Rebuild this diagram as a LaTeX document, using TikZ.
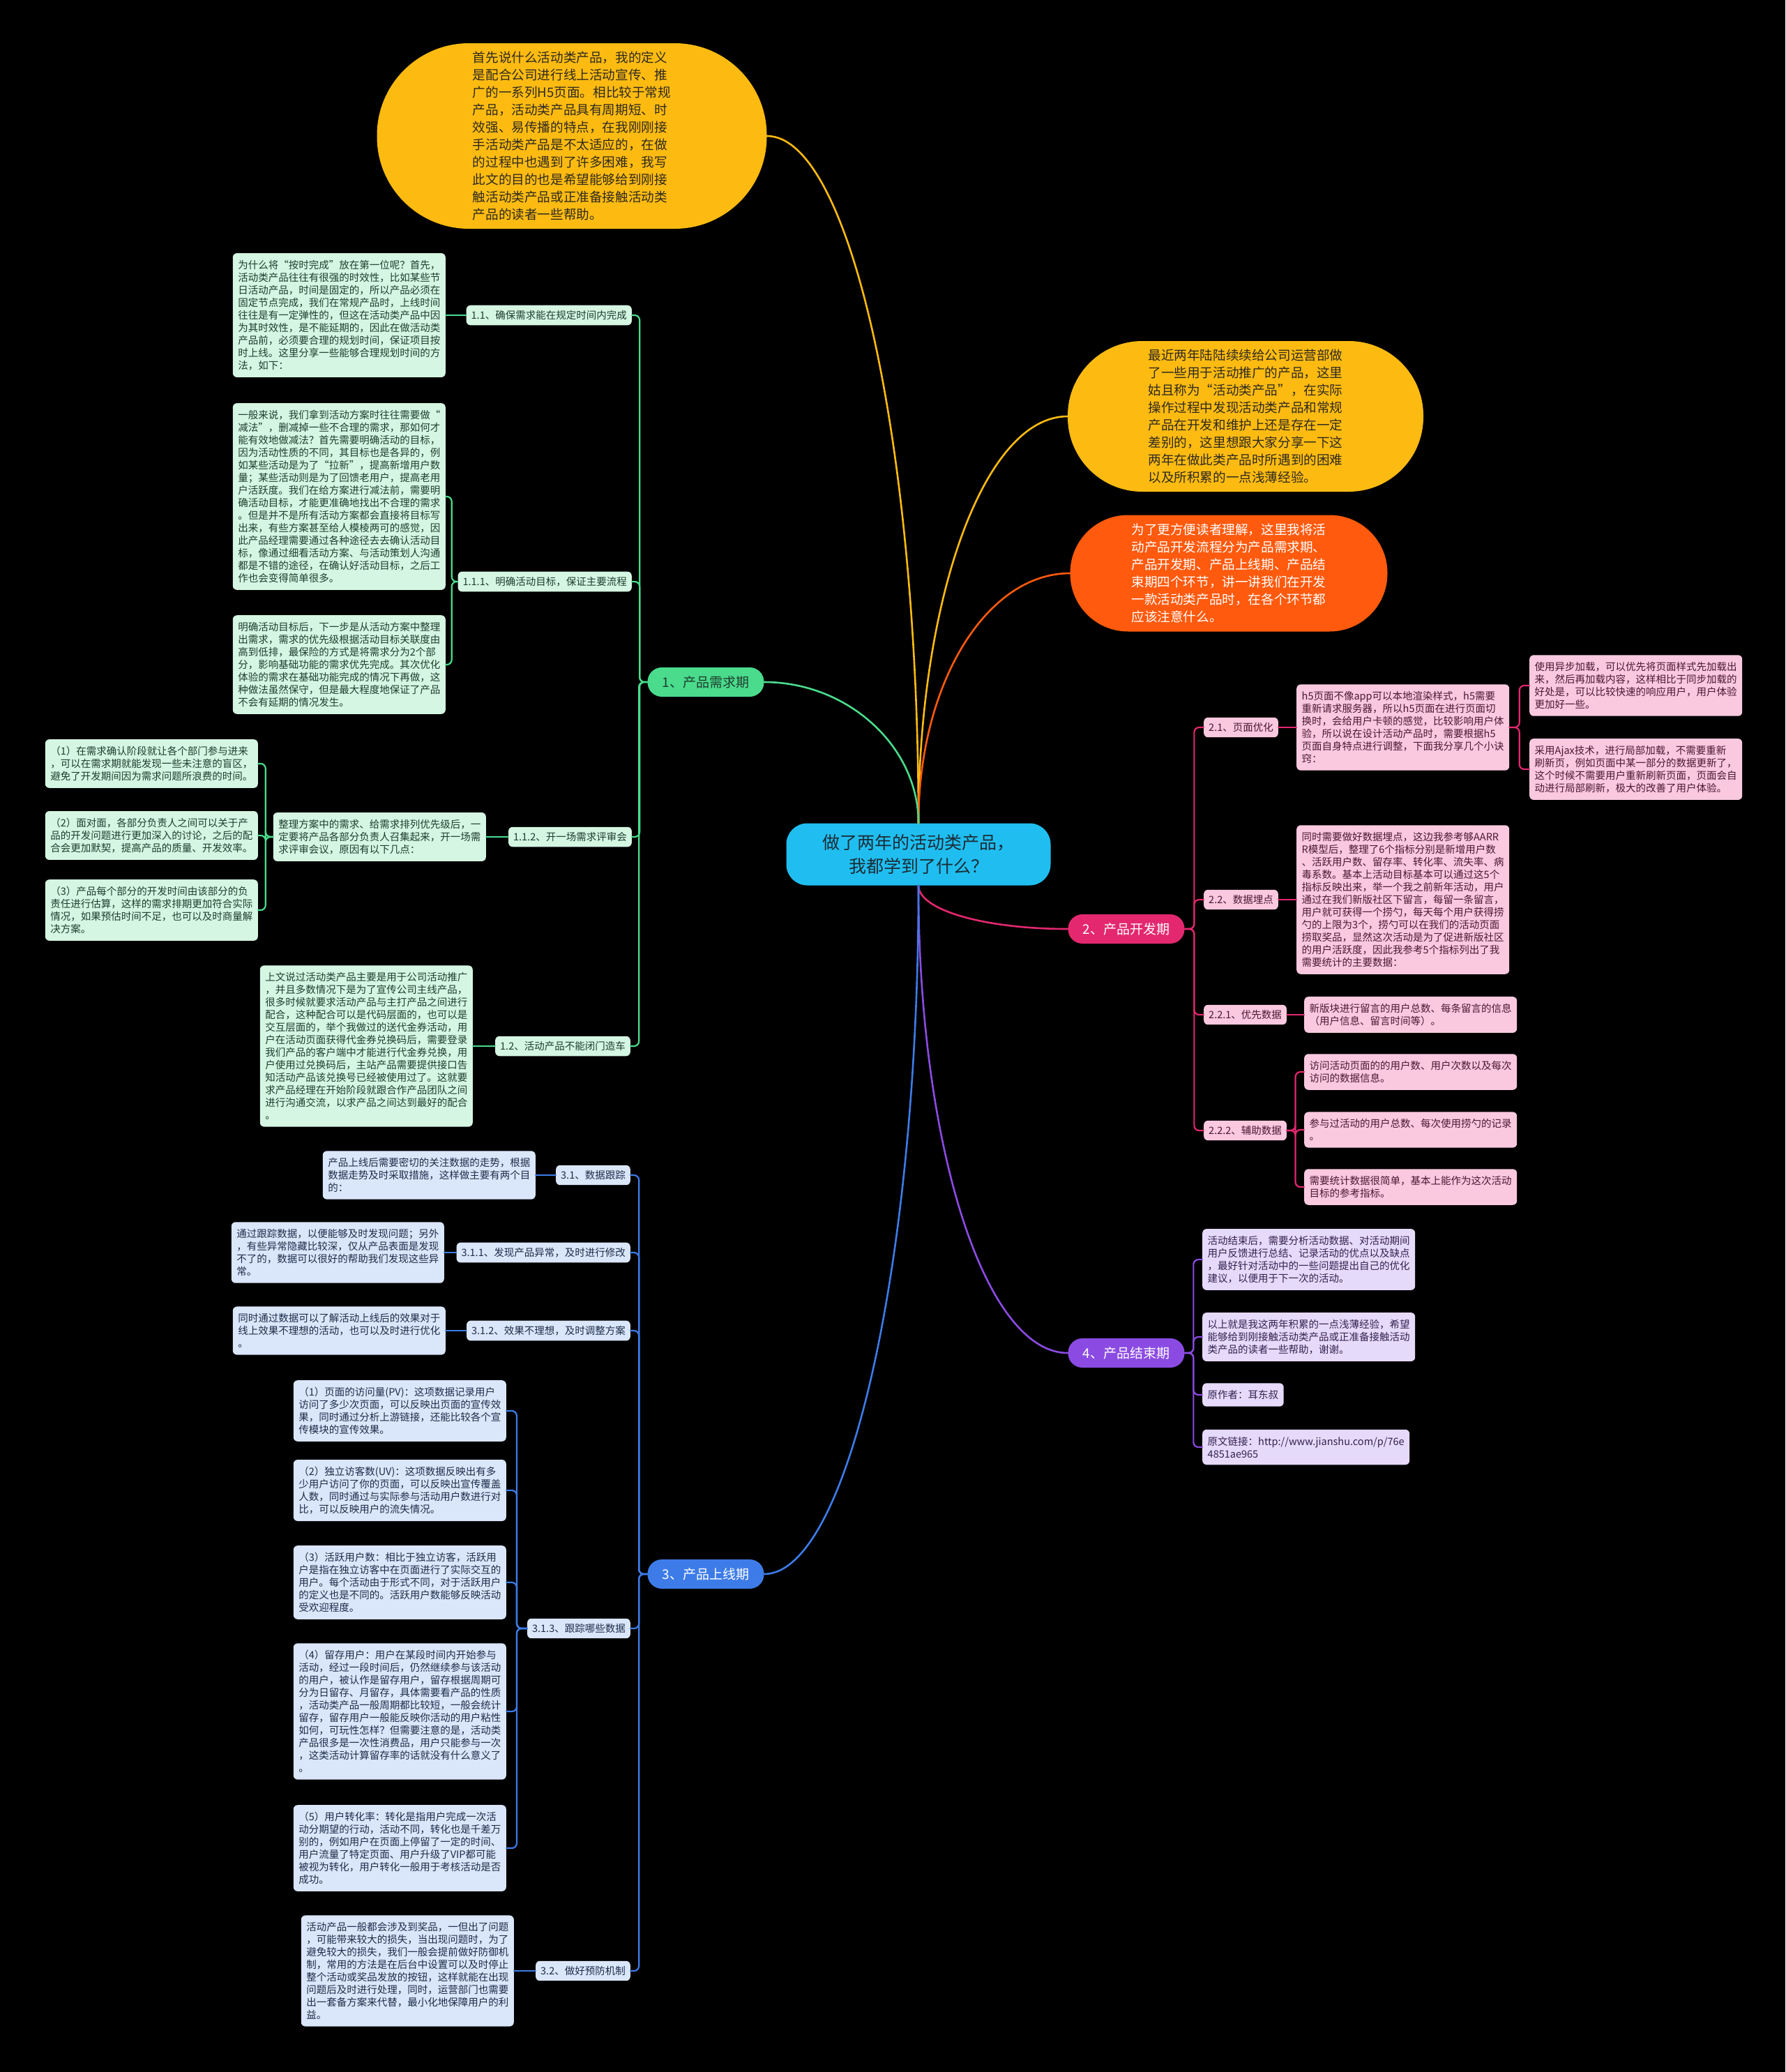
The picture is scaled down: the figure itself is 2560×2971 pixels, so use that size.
\documentclass[tikz,border=0pt]{standalone}
\usepackage{fontspec}
\newfontfamily\cjk{Noto Sans CJK SC}
\usetikzlibrary{calc}
\definecolor{yfill}{HTML}{FDBB12}
\definecolor{ytext}{HTML}{2E2A20}
\definecolor{ofill}{HTML}{FF5A0E}
\definecolor{cfill}{HTML}{20BEF0}
\definecolor{ctext}{HTML}{1B2C36}
\definecolor{gline}{HTML}{4ADB8C}
\definecolor{gfill}{HTML}{D5F6E2}
\definecolor{gtext}{HTML}{1F3D2D}
\definecolor{pline}{HTML}{E3286F}
\definecolor{pfill}{HTML}{FAC9DF}
\definecolor{ptext}{HTML}{4A1832}
\definecolor{bline}{HTML}{3D7CE8}
\definecolor{bfill}{HTML}{DAE6FA}
\definecolor{btext}{HTML}{1E2C48}
\definecolor{vline}{HTML}{8B4BE2}
\definecolor{vfill}{HTML}{E6DAFA}
\definecolor{vtext}{HTML}{34214F}
\begin{document}
\begin{tikzpicture}[x=1pt, y=-1pt, line join=round, line cap=round,
  txtbox/.style={rounded corners=6pt, inner xsep=7.5pt, inner ysep=10pt, align=left, font=\cjk\fontsize{14.5}{18}\selectfont},
  subnode/.style={rounded corners=6pt, inner xsep=7pt, inner ysep=7.5pt, font=\cjk\fontsize{14.5}{18}\selectfont},
  gbox/.style={txtbox, fill=gfill, text=gtext}, gsub/.style={subnode, fill=gfill, text=gtext},
  pbox/.style={txtbox, fill=pfill, text=ptext}, psub/.style={subnode, fill=pfill, text=ptext},
  bbox/.style={txtbox, fill=bfill, text=btext}, bsub/.style={subnode, fill=bfill, text=btext},
  vbox/.style={txtbox, fill=vfill, text=vtext},
  branchnode/.style={rounded corners=20.5pt, minimum width=167pt, minimum height=42pt, inner sep=0pt, font=\cjk\fontsize{19}{22}\selectfont},
  bubble/.style={align=left, inner sep=0pt, font=\cjk\fontsize{18.6}{25}\selectfont},
  lk/.style={line width=2.2pt, rounded corners=7pt},
  mainlk/.style={line width=2.6pt}]

\fill[black] (0,0) rectangle (2560,2971);

% centre and intro bubbles
\node[fill=cfill, text=ctext, rounded corners=30pt, minimum width=379pt, minimum height=89pt, align=center, font=\cjk\fontsize{25}{34}\selectfont] (ctr) at (1317,1225) {做了两年的活动类产品，\\我都学到了什么？};

\node[bubble, fill=yfill, text=ytext, rounded corners=132pt, minimum width=559pt, minimum height=266pt] (intro) at (820,195) {首先说什么活动类产品，我的定义\\是配合公司进行线上活动宣传、推\\广的一系列H5页面。相比较于常规\\产品，活动类产品具有周期短、时\\效强、易传播的特点，在我刚刚接\\手活动类产品是不太适应的，在做\\的过程中也遇到了许多困难，我写\\此文的目的也是希望能够给到刚接\\触活动类产品或正准备接触活动类\\产品的读者一些帮助。};
\node[bubble, fill=yfill, text=ytext, rounded corners=107pt, minimum width=510pt, minimum height=216pt] (recent) at (1786,597) {最近两年陆陆续续给公司运营部做\\了一些用于活动推广的产品，这里\\姑且称为“活动类产品”，在实际\\操作过程中发现活动类产品和常规\\产品在开发和维护上还是存在一定\\差别的，这里想跟大家分享一下这\\两年在做此类产品时所遇到的困难\\以及所积累的一点浅薄经验。};
\node[bubble, fill=ofill, text=white, rounded corners=83pt, minimum width=455pt, minimum height=167pt] (stages) at (1762,822) {为了更方便读者理解，这里我将活\\动产品开发流程分为产品需求期、\\产品开发期、产品上线期、产品结\\束期四个环节，讲一讲我们在开发\\一款活动类产品时，在各个环节都\\应该注意什么。};

% main branches
\node[branchnode, fill=gline, text=gtext] (b1) at (1012,978) {1、产品需求期};
\node[branchnode, fill=pline, text=white] (b2) at (1615,1332) {2、产品开发期};
\node[branchnode, fill=bline, text=white] (b3) at (1012,2257) {3、产品上线期};
\node[branchnode, fill=vline, text=white] (b4) at (1615,1940) {4、产品结束期};

\draw[mainlk, draw=yfill] (ctr.north) to[out=90, in=0, out distance=540pt, in distance=120pt] (intro.east);
\draw[mainlk, draw=yfill] (ctr.north) to[out=90, in=180, out distance=320pt, in distance=120pt] (recent.west);
\draw[mainlk, draw=ofill] (ctr.north) to[out=90, in=180, out distance=200pt, in distance=120pt] (stages.west);
\draw[mainlk, draw=gline] (ctr.north) to[out=90, in=0, out distance=110pt, in distance=120pt] (b1.east);
\draw[mainlk, draw=pline] (ctr.south) to[out=-90, in=180, out distance=35pt, in distance=120pt] (b2.west);
\draw[mainlk, draw=vline] (ctr.south) to[out=-90, in=180, out distance=370pt, in distance=120pt] (b4.west);
\draw[mainlk, draw=bline] (ctr.south) to[out=-90, in=0, out distance=540pt, in distance=120pt] (b3.east);

% 1 requirement stage
\node[gsub, anchor=east] (n11) at (906,452) {1.1、确保需求能在规定时间内完成};
\node[gbox, anchor=east] (t11) at (639,452) {为什么将“按时完成”放在第一位呢？首先，\\活动类产品往往有很强的时效性，比如某些节\\日活动产品，时间是固定的，所以产品必须在\\固定节点完成，我们在常规产品时，上线时间\\往往是有一定弹性的，但这在活动类产品中因\\为其时效性，是不能延期的，因此在做活动类\\产品前，必须要合理的规划时间，保证项目按\\时上线。这里分享一些能够合理规划时间的方\\法，如下：};
\node[gsub, anchor=east] (n111) at (906,834) {1.1.1、明确活动目标，保证主要流程};
\node[gbox, anchor=east] (t111a) at (639,712) {一般来说，我们拿到活动方案时往往需要做“\\减法”，删减掉一些不合理的需求，那如何才\\能有效地做减法？首先需要明确活动的目标，\\因为活动性质的不同，其目标也是各异的，例\\如某些活动是为了“拉新”，提高新增用户数\\量；某些活动则是为了回馈老用户，提高老用\\户活跃度。我们在给方案进行减法前，需要明\\确活动目标，才能更准确地找出不合理的需求\\。但是并不是所有活动方案都会直接将目标写\\出来，有些方案甚至给人模棱两可的感觉，因\\此产品经理需要通过各种途径去去确认活动目\\标，像通过细看活动方案、与活动策划人沟通\\都是不错的途径，在确认好活动目标，之后工\\作也会变得简单很多。};
\node[gbox, anchor=east] (t111b) at (639,953) {明确活动目标后，下一步是从活动方案中整理\\出需求，需求的优先级根据活动目标关联度由\\高到低排，最保险的方式是将需求分为2个部\\分，影响基础功能的需求优先完成。其次优化\\体验的需求在基础功能完成的情况下再做，这\\种做法虽然保守，但是最大程度地保证了产品\\不会有延期的情况发生。};
\node[gsub, anchor=east] (n112) at (906,1200) {1.1.2、开一场需求评审会};
\node[gbox, anchor=east] (t112) at (697,1200) {整理方案中的需求、给需求排列优先级后，一\\定要将产品各部分负责人召集起来，开一场需\\求评审会议，原因有以下几点：};
\node[gbox, anchor=east] (t112a) at (370,1095) {（1）在需求确认阶段就让各个部门参与进来\\，可以在需求期就能发现一些未注意的盲区，\\避免了开发期间因为需求问题所浪费的时间。};
\node[gbox, anchor=east] (t112b) at (370,1198) {（2）面对面，各部分负责人之间可以关于产\\品的开发问题进行更加深入的讨论，之后的配\\合会更加默契，提高产品的质量、开发效率。};
\node[gbox, anchor=east] (t112c) at (370,1305) {（3）产品每个部分的开发时间由该部分的负\\责任进行估算，这样的需求排期更加符合实际\\情况，如果预估时间不足，也可以及时商量解\\决方案。};
\node[gsub, anchor=east] (n12) at (904,1500) {1.2、活动产品不能闭门造车};
\node[gbox, anchor=east] (t12) at (678,1500) {上文说过活动类产品主要是用于公司活动推广\\，并且多数情况下是为了宣传公司主线产品，\\很多时候就要求活动产品与主打产品之间进行\\配合，这种配合可以是代码层面的，也可以是\\交互层面的，举个我做过的送代金券活动，用\\户在活动页面获得代金券兑换码后，需要登录\\我们产品的客户端中才能进行代金券兑换，用\\户使用过兑换码后，主站产品需要提供接口告\\知活动产品该兑换号已经被使用过了。这就要\\求产品经理在开始阶段就跟合作产品团队之间\\进行沟通交流，以求产品之间达到最好的配合\\。};

\foreach \c in {n11,n111,n112,n12}
  \draw[lk, draw=gline] (b1.west) -| ($(b1.west)!0.5!(\c.east)$) |- (\c.east);
\foreach \c in {t111a,t111b}
  \draw[lk, draw=gline] (n111.west) -| ($(n111.west)!0.5!(\c.east)$) |- (\c.east);
\foreach \c in {t112a,t112b,t112c}
  \draw[lk, draw=gline] (t112.west) -| ($(t112.west)!0.5!(\c.east)$) |- (\c.east);
\draw[lk, draw=gline] (n11.west) -- (t11.east);
\draw[lk, draw=gline] (n112.west) -- (t112.east);
\draw[lk, draw=gline] (n12.west) -- (t12.east);

% 2 development stage
\node[psub, anchor=west] (n21) at (1726,1043) {2.1、页面优化};
\node[pbox, anchor=west] (t21) at (1859,1043) {h5页面不像app可以本地渲染样式，h5需要\\重新请求服务器，所以h5页面在进行页面切\\换时，会给用户卡顿的感觉，比较影响用户体\\验，所以说在设计活动产品时，需要根据h5\\页面自身特点进行调整，下面我分享几个小诀\\窍：};
\node[pbox, anchor=west] (t21a) at (2193,983) {使用异步加载，可以优先将页面样式先加载出\\来，然后再加载内容，这样相比于同步加载的\\好处是，可以比较快速的响应用户，用户体验\\更加好一些。};
\node[pbox, anchor=west] (t21b) at (2193,1103) {采用Ajax技术，进行局部加载，不需要重新\\刷新页，例如页面中某一部分的数据更新了，\\这个时候不需要用户重新刷新页面，页面会自\\动进行局部刷新，极大的改善了用户体验。};
\node[psub, anchor=west] (n22) at (1726,1290) {2.2、数据埋点};
\node[pbox, anchor=west] (t22) at (1859,1290) {同时需要做好数据埋点，这边我参考够AARR\\R模型后，整理了6个指标分别是新增用户数\\、活跃用户数、留存率、转化率、流失率、病\\毒系数。基本上活动目标基本可以通过这5个\\指标反映出来，举一个我之前新年活动，用户\\通过在我们新版社区下留言，每留一条留言，\\用户就可获得一个捞勺，每天每个用户获得捞\\勺的上限为3个，捞勺可以在我们的活动页面\\捞取奖品，显然这次活动是为了促进新版社区\\的用户活跃度，因此我参考5个指标列出了我\\需要统计的主要数据：};
\node[psub, anchor=west] (n221) at (1726,1455) {2.2.1、优先数据};
\node[pbox, anchor=west] (t221) at (1870,1455) {新版块进行留言的用户总数、每条留言的信息\\（用户信息、留言时间等）。};
\node[psub, anchor=west] (n222) at (1726,1621) {2.2.2、辅助数据};
\node[pbox, anchor=west] (t222a) at (1870,1537) {访问活动页面的的用户数、用户次数以及每次\\访问的数据信息。};
\node[pbox, anchor=west] (t222b) at (1870,1620) {参与过活动的用户总数、每次使用捞勺的记录\\。};
\node[pbox, anchor=west] (t222c) at (1870,1702) {需要统计数据很简单，基本上能作为这次活动\\目标的参考指标。};

\foreach \c in {n21,n22,n221,n222}
  \draw[lk, draw=pline] (b2.east) -| ($(b2.east)!0.5!(\c.west)$) |- (\c.west);
\foreach \c in {t21a,t21b}
  \draw[lk, draw=pline] (t21.east) -| ($(t21.east)!0.5!(\c.west)$) |- (\c.west);
\foreach \c in {t222a,t222b,t222c}
  \draw[lk, draw=pline] (n222.east) -| ($(n222.east)!0.5!(\c.west)$) |- (\c.west);
\draw[lk, draw=pline] (n21.east) -- (t21.west);
\draw[lk, draw=pline] (n22.east) -- (t22.west);
\draw[lk, draw=pline] (n221.east) -- (t221.west);

% 3 launch stage
\node[bsub, anchor=east] (n31) at (904,1685) {3.1、数据跟踪};
\node[bbox, anchor=east] (t31) at (768,1685) {产品上线后需要密切的关注数据的走势，根据\\数据走势及时采取措施，这样做主要有两个目\\的：};
\node[bsub, anchor=east] (n311) at (904,1796) {3.1.1、发现产品异常，及时进行修改};
\node[bbox, anchor=east] (t311) at (637,1796) {通过跟踪数据，以便能够及时发现问题；另外\\，有些异常隐藏比较深，仅从产品表面是发现\\不了的，数据可以很好的帮助我们发现这些异\\常。};
\node[bsub, anchor=east] (n312) at (904,1908) {3.1.2、效果不理想，及时调整方案};
\node[bbox, anchor=east] (t312) at (639,1908) {同时通过数据可以了解活动上线后的效果对于\\线上效果不理想的活动，也可以及时进行优化\\。};
\node[bsub, anchor=east] (n313) at (904,2335) {3.1.3、跟踪哪些数据};
\node[bbox, anchor=east] (t3131) at (726,2023) {（1）页面的访问量(PV)：这项数据记录用户\\访问了多少次页面，可以反映出页面的宣传效\\果，同时通过分析上游链接，还能比较各个宣\\传模块的宣传效果。};
\node[bbox, anchor=east] (t3132) at (726,2137) {（2）独立访客数(UV)：这项数据反映出有多\\少用户访问了你的页面，可以反映出宣传覆盖\\人数，同时通过与实际参与活动用户数进行对\\比，可以反映用户的流失情况。};
\node[bbox, anchor=east] (t3133) at (726,2269) {（3）活跃用户数：相比于独立访客，活跃用\\户是指在独立访客中在页面进行了实际交互的\\用户。每个活动由于形式不同，对于活跃用户\\的定义也是不同的。活跃用户数能够反映活动\\受欢迎程度。};
\node[bbox, anchor=east] (t3134) at (726,2454) {（4）留存用户：用户在某段时间内开始参与\\活动，经过一段时间后，仍然继续参与该活动\\的用户，被认作是留存用户，留存根据周期可\\分为日留存、月留存，具体需要看产品的性质\\，活动类产品一般周期都比较短，一般会统计\\留存，留存用户一般能反映你活动的用户粘性\\如何，可玩性怎样？但需要注意的是，活动类\\产品很多是一次性消费品，用户只能参与一次\\，这类活动计算留存率的话就没有什么意义了\\。};
\node[bbox, anchor=east] (t3135) at (726,2650) {（5）用户转化率：转化是指用户完成一次活\\动分期望的行动，活动不同，转化也是千差万\\别的，例如用户在页面上停留了一定的时间、\\用户流量了特定页面、用户升级了VIP都可能\\被视为转化，用户转化一般用于考核活动是否\\成功。};
\node[bsub, anchor=east] (n32) at (904,2826) {3.2、做好预防机制};
\node[bbox, anchor=east] (t32) at (737,2826) {活动产品一般都会涉及到奖品，一但出了问题\\，可能带来较大的损失，当出现问题时，为了\\避免较大的损失，我们一般会提前做好防御机\\制，常用的方法是在后台中设置可以及时停止\\整个活动或奖品发放的按钮，这样就能在出现\\问题后及时进行处理，同时，运营部门也需要\\出一套备方案来代替，最小化地保障用户的利\\益。};

\foreach \c in {n31,n311,n312,n313,n32}
  \draw[lk, draw=bline] (b3.west) -| ($(b3.west)!0.5!(\c.east)$) |- (\c.east);
\foreach \c in {t3131,t3132,t3133,t3134,t3135}
  \draw[lk, draw=bline] (n313.west) -| ($(n313.west)!0.5!(\c.east)$) |- (\c.east);
\draw[lk, draw=bline] (n31.west) -- (t31.east);
\draw[lk, draw=bline] (n311.west) -- (t311.east);
\draw[lk, draw=bline] (n312.west) -- (t312.east);
\draw[lk, draw=bline] (n32.west) -- (t32.east);

% 4 closing stage
\node[vbox, anchor=west] (t4a) at (1724,1806) {活动结束后，需要分析活动数据、对活动期间\\用户反馈进行总结、记录活动的优点以及缺点\\，最好针对活动中的一些问题提出自己的优化\\建议，以便用于下一次的活动。};
\node[vbox, anchor=west] (t4b) at (1724,1917) {以上就是我这两年积累的一点浅薄经验，希望\\能够给到刚接触活动类产品或正准备接触活动\\类产品的读者一些帮助，谢谢。};
\node[vbox, anchor=west] (t4c) at (1724,2000) {原作者：耳东叔};
\node[vbox, anchor=west] (t4d) at (1724,2075) {原文链接：http://www.jianshu.com/p/76e\\4851ae965};

\foreach \c in {t4a,t4b,t4c,t4d}
  \draw[lk, draw=vline] (b4.east) -| ($(b4.east)!0.5!(\c.west)$) |- (\c.west);

\end{tikzpicture}
\end{document}
